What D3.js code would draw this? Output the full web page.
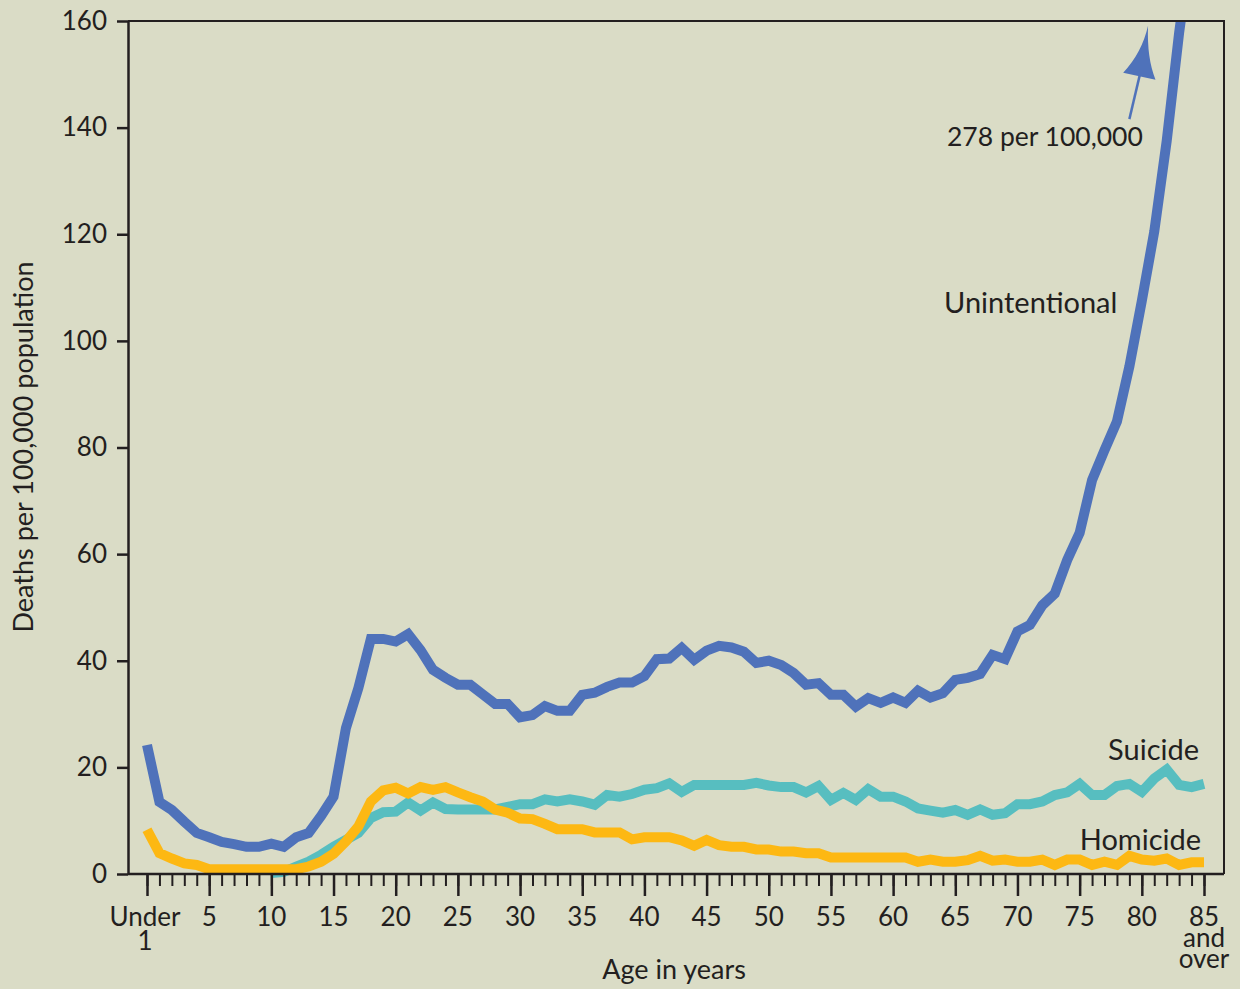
<!DOCTYPE html>
<html>
<head>
<meta charset="utf-8">
<script src="https://cdn.jsdelivr.net/npm/d3@7"></script>
<style>
  body { margin: 0; background: #dadcc6; }
  svg { display: block; font-family: Lato, "Noto Sans", sans-serif; }
  .axis path, .axis line { stroke: #231f20; }
  .axis text { fill: #231f20; }
  .lbl { fill: #231f20; }
</style>
</head>
<body>
<svg id="chart" width="1240" height="989"></svg>
<script>
// ages 0 ("Under 1") .. 85 ("85 and over")
const ages = d3.range(0, 86);

const unintentional = [
  24.2, 13.5, 12.0, 9.8, 7.7, 6.9, 6.0, 5.6, 5.1, 5.1,
  5.7, 5.1, 6.9, 7.7, 10.9, 14.5, 27.4, 34.9, 44.1, 44.1,
  43.6, 45.0, 42.0, 38.3, 36.8, 35.5, 35.5, 33.7, 31.9, 31.9,
  29.4, 29.8, 31.5, 30.6, 30.6, 33.6, 34.0, 35.1, 35.9, 35.9,
  37.1, 40.3, 40.4, 42.4, 40.2, 41.9, 42.8, 42.5, 41.7, 39.6,
  40.0, 39.2, 37.7, 35.5, 35.8, 33.6, 33.6, 31.4, 33.0, 32.1,
  33.1, 32.1, 34.4, 33.1, 33.9, 36.4, 36.8, 37.5, 41.1, 40.3,
  45.5, 46.7, 50.4, 52.6, 58.9, 64.0, 73.9, 79.5, 84.9, 95.2,
  107.5, 120.5, 137.5, 157.8, 175, 278,
];

const suicide = [
  null, null, null, null, null, null, null, null, null, null,
  0.2, 0.4, 1.4, 2.3, 3.6, 5.1, 6.4, 7.7, 10.5, 11.6,
  11.7, 13.4, 11.9, 13.4, 12.2, 12.1, 12.1, 12.1, 12.1, 12.6,
  13.1, 13.1, 14.0, 13.6, 14.0, 13.6, 13.0, 14.8, 14.5, 15.0,
  15.8, 16.1, 17.0, 15.4, 16.7, 16.7, 16.7, 16.7, 16.7, 17.1,
  16.6, 16.3, 16.3, 15.3, 16.5, 13.9, 15.2, 13.9, 15.9, 14.5,
  14.5, 13.6, 12.3, 11.9, 11.5, 12.0, 11.1, 12.1, 11.1, 11.4,
  13.1, 13.1, 13.6, 14.8, 15.3, 16.9, 14.8, 14.8, 16.5, 16.9,
  15.4, 17.9, 19.6, 16.7, 16.3, 16.9,
];

const homicide = [
  8.3, 3.9, 2.9, 2.0, 1.7, 0.9, 0.9, 0.9, 0.9, 0.9,
  0.9, 0.9, 0.9, 1.4, 2.3, 3.8, 6.1, 8.9, 13.6, 15.7,
  16.2, 15.1, 16.3, 15.8, 16.3, 15.3, 14.4, 13.6, 12.1, 11.5,
  10.4, 10.3, 9.4, 8.4, 8.4, 8.4, 7.8, 7.8, 7.8, 6.5,
  6.9, 6.9, 6.9, 6.3, 5.3, 6.4, 5.4, 5.1, 5.1, 4.6,
  4.6, 4.2, 4.2, 3.9, 3.9, 3.1, 3.1, 3.1, 3.1, 3.1,
  3.1, 3.1, 2.3, 2.7, 2.3, 2.3, 2.6, 3.4, 2.5, 2.7,
  2.3, 2.3, 2.7, 1.7, 2.7, 2.7, 1.7, 2.3, 1.7, 3.4,
  2.7, 2.5, 2.9, 1.7, 2.2, 2.2,
];

const yTicks = [0, 20, 40, 60, 80, 100, 120, 140, 160];
const xMajor = d3.range(0, 86, 5);
const xLabels = ['Under|1', '5', '10', '15', '20', '25', '30', '35', '40',
  '45', '50', '55', '60', '65', '70', '75', '80', '85|and|over'];

const seriesNames = ['Unintentional', 'Suicide', 'Homicide'];
const colors = ['#4f72ba', '#57bec0', '#fdb813'];

const svg = d3.select('#chart');
const frame = { left: 128, right: 1224, top: 21, bottom: 874 };

const x = d3.scaleLinear().domain([0, 85]).range([147, 1204]);
const y = d3.scaleLinear().domain([0, 160]).range([frame.bottom, frame.top]);

svg.append('rect')
  .attr('width', 1240).attr('height', 989).attr('fill', '#dadcc6');

svg.append('clipPath').attr('id', 'clip')
  .append('rect')
  .attr('x', frame.left).attr('y', frame.top)
  .attr('width', frame.right - frame.left)
  .attr('height', frame.bottom - frame.top + 10);

// lines
const line = d3.line()
  .defined(d => d.v !== null)
  .x(d => x(d.age))
  .y(d => y(d.v));

[unintentional, suicide, homicide].forEach((vals, i) => {
  svg.append('path')
    .datum(ages.map(a => ({ age: a, v: vals[a] })))
    .attr('d', line)
    .attr('fill', 'none')
    .attr('stroke', colors[i])
    .attr('stroke-width', 10)
    .attr('stroke-linejoin', 'miter')
    .attr('clip-path', 'url(#clip)');
});

// frame (top and right)
svg.append('path')
  .attr('d', `M${frame.left},${frame.top}H${frame.right}V${frame.bottom}`)
  .attr('fill', 'none')
  .attr('stroke', '#231f20')
  .attr('stroke-width', 2);

// y axis
const gY = svg.append('g')
  .attr('class', 'axis')
  .attr('transform', `translate(${frame.left},0)`)
  .call(d3.axisLeft(y).tickValues(yTicks).tickSize(11).tickPadding(10).tickSizeOuter(0));
gY.select('.domain').attr('stroke-width', 2.5);
gY.selectAll('.tick line').attr('stroke-width', 2.5);
gY.selectAll('.tick text').attr('font-size', 26).attr('font-family', 'Lato');

// x axis: minor ticks every year, major every 5
const gXMinor = svg.append('g')
  .attr('class', 'axis')
  .attr('transform', `translate(0,${frame.bottom})`)
  .call(d3.axisBottom(x).tickValues(ages).tickSize(12).tickFormat('').tickSizeOuter(0));
gXMinor.select('.domain')
  .attr('d', `M${frame.left},0H${frame.right}`)
  .attr('stroke-width', 2.5);
gXMinor.selectAll('.tick line').attr('stroke-width', 2);

const gXMajor = svg.append('g')
  .attr('class', 'axis')
  .attr('transform', `translate(0,${frame.bottom})`)
  .call(d3.axisBottom(x).tickValues(xMajor).tickSize(22).tickFormat('').tickSizeOuter(0));
gXMajor.select('.domain').remove();
gXMajor.selectAll('.tick line').attr('stroke-width', 2.5);

xMajor.forEach((a, i) => {
  const parts = xLabels[i].split('|');
  const cx = x(a) - (a === 0 ? 2 : 0);
  const t = svg.append('text')
    .attr('class', 'lbl')
    .attr('text-anchor', 'middle')
    .attr('font-size', 26)
    .attr('y', 926);
  parts.forEach((p, j) => {
    t.append('tspan')
      .attr('x', cx)
      .attr('dy', j === 0 ? 0 : (a === 0 ? 24 : 21))
      .text(p);
  });
});

// axis titles
svg.append('text')
  .attr('class', 'lbl')
  .attr('text-anchor', 'middle')
  .attr('font-size', 27)
  .attr('x', 674).attr('y', 979)
  .text('Age in years');

svg.append('text')
  .attr('class', 'lbl')
  .attr('text-anchor', 'middle')
  .attr('font-size', 27)
  .attr('transform', 'translate(33,447) rotate(-90)')
  .text('Deaths per 100,000 population');

// series labels
svg.append('text').attr('class', 'lbl').attr('font-size', 29)
  .attr('x', 944).attr('y', 313).text(seriesNames[0]);
svg.append('text').attr('class', 'lbl').attr('font-size', 29)
  .attr('text-anchor', 'end').attr('x', 1199).attr('y', 760).text(seriesNames[1]);
svg.append('text').attr('class', 'lbl').attr('font-size', 29)
  .attr('text-anchor', 'end').attr('x', 1201).attr('y', 850).text(seriesNames[2]);

// off-scale annotation for 85 and over
svg.append('text').attr('class', 'lbl').attr('font-size', 26.5)
  .attr('x', 947).attr('y', 146).text('278 per 100,000');

svg.append('line')
  .attr('x1', x(79.0)).attr('y1', y(141.6))
  .attr('x2', x(79.9)).attr('y2', y(150.5))
  .attr('stroke', colors[0]).attr('stroke-width', 2.5);

svg.append('path')
  .attr('d', `M${x(80.5)},${y(159.1)}
    Q${x(80.4)},${y(153)} ${x(81.1)},${y(149.0)}
    L${x(78.5)},${y(150.3)}
    Q${x(80)},${y(154)} ${x(80.5)},${y(159.1)}Z`)
  .attr('fill', colors[0]);
</script>
</body>
</html>
